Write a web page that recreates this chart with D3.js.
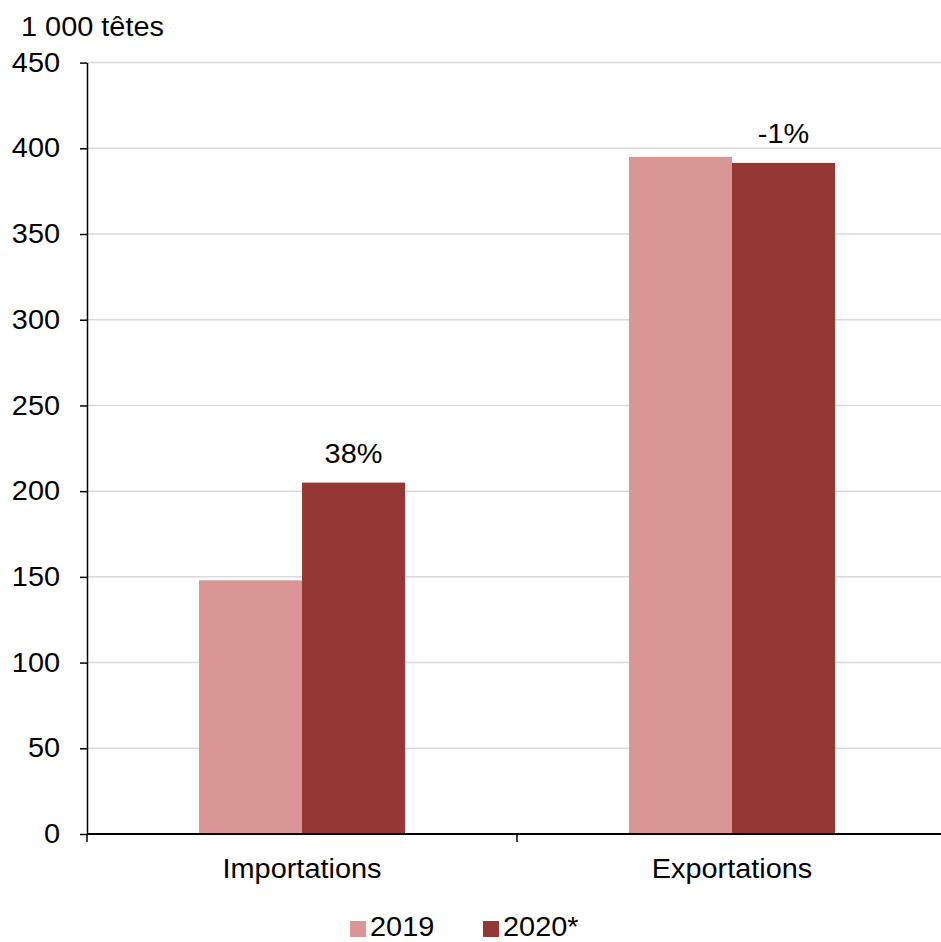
<!DOCTYPE html>
<html>
<head>
<meta charset="utf-8">
<script src="https://cdn.jsdelivr.net/npm/d3@7"></script>
<style>
  body { margin: 0; background: #fff; }
  text { font-family: "Liberation Sans", Arial, sans-serif; fill: #000; }
</style>
</head>
<body>
<div id="chart"></div>
<script>
(function() {
  var width = 941,
      height = 942;

  // Data (thousands of head).
  var categories = ["Importations", "Exportations"];
  var series = ["2019", "2020*"];
  var values2019 = [148, 395];
  var values2020 = [205, 391.5];
  var changeLabels = ["38%", "-1%"];
  var yTicks = [0, 50, 100, 150, 200, 250, 300, 350, 400, 450];
  var colors = ["#d99694", "#953735"];

  var left = 87, right = 947, top = 62.6, bottom = 834;
  var fontSize = 27,
      stretchX = 1.07; // the reference font is a bit wider than Liberation Sans

  var svg = d3.select("#chart")
    .append("svg")
      .attr("width", width)
      .attr("height", height);

  // Put a text at (x, y), widened horizontally.
  function placeText(sel, x, y) {
    sel.attr("transform", function(d, i) {
      var px = typeof x === "function" ? x(d, i) : x,
          py = typeof y === "function" ? y(d, i) : y;
      return "translate(" + px + "," + py + ") scale(" + stretchX + ",1)";
    })
    .style("font-size", fontSize + "px");
    return sel;
  }

  var y = d3.scaleLinear()
    .domain([0, 450])
    .range([bottom, top]);

  var x0 = d3.scaleBand()
    .domain(categories)
    .range([left, right]);

  var x1 = d3.scaleBand()
    .domain(series)
    .range([0, x0.bandwidth()])
    .paddingOuter(1.087);

  // Gridlines.
  svg.append("g")
    .selectAll("line")
    .data(yTicks.filter(function(d) { return d > 0; }))
    .enter()
    .append("line")
      .attr("x1", left)
      .attr("x2", width)
      .attr("y1", function(d) { return y(d); })
      .attr("y2", function(d) { return y(d); })
      .attr("stroke", "#d9d9d9")
      .attr("stroke-width", 1.5);

  // Bars.
  var rows = categories.map(function(c, i) {
    return { cat: c, vals: [values2019[i], values2020[i]] };
  });

  var groups = svg.append("g")
    .selectAll("g")
    .data(rows)
    .enter()
    .append("g")
      .attr("transform", function(d) { return "translate(" + x0(d.cat) + ",0)"; });

  groups.selectAll("rect")
    .data(function(d) { return d.vals.map(function(v, j) { return { s: series[j], v: v, j: j }; }); })
    .enter()
    .append("rect")
      .attr("x", function(d) { return x1(d.s); })
      .attr("width", x1.bandwidth())
      .attr("y", function(d) { return y(d.v); })
      .attr("height", function(d) { return bottom - y(d.v); })
      .attr("fill", function(d) { return colors[d.j]; });

  // Change labels above the 2020 bars.
  var changes = svg.append("g")
    .selectAll("text")
    .data(rows)
    .enter()
    .append("text")
      .attr("text-anchor", "middle")
      .text(function(d, i) { return changeLabels[i]; });
  placeText(changes,
    function(d) { return x0(d.cat) + x1(series[1]) + x1.bandwidth() / 2; },
    function(d) { return y(d.vals[1]) - 20; });

  // Y axis.
  var yAxis = svg.append("g")
    .attr("transform", "translate(" + left + ",0)")
    .call(d3.axisLeft(y).tickValues(yTicks).tickSizeInner(7).tickSizeOuter(0).tickPadding(18.2));
  yAxis.select(".domain").attr("stroke", "#000").attr("stroke-width", 1.5);
  yAxis.selectAll(".tick line").attr("stroke", "#000").attr("stroke-width", 1.5);
  yAxis.selectAll(".tick text")
    .attr("transform", "scale(" + stretchX + ",1)")
    .style("font-size", fontSize + "px")
    .style("font-family", "Liberation Sans, Arial, sans-serif")
    .attr("fill", "#000");

  // X axis.
  var xAxis = svg.append("g");
  xAxis.append("line")
    .attr("x1", left).attr("x2", width)
    .attr("y1", bottom).attr("y2", bottom)
    .attr("stroke", "#000").attr("stroke-width", 2);
  xAxis.selectAll("line.tk")
    .data(categories.concat(["end"]))
    .enter()
    .append("line")
      .attr("class", "tk")
      .attr("x1", function(d, i) { return i < categories.length ? x0(d) : right; })
      .attr("x2", function(d, i) { return i < categories.length ? x0(d) : right; })
      .attr("y1", bottom)
      .attr("y2", bottom + 8)
      .attr("stroke", "#000")
      .attr("stroke-width", 1.5);
  var catLabels = xAxis.selectAll("text")
    .data(categories)
    .enter()
    .append("text")
      .attr("text-anchor", "middle")
      .text(function(d) { return d; });
  placeText(catLabels, function(d) { return x0(d) + x0.bandwidth() / 2; }, 878);

  // Unit title.
  placeText(svg.append("text").text("1 000 têtes"), 21, 36);

  // Legend.
  var legendX = [350, 483];
  var legend = svg.append("g");
  series.forEach(function(s, i) {
    legend.append("rect")
      .attr("x", legendX[i])
      .attr("y", 921)
      .attr("width", 16)
      .attr("height", 16)
      .attr("fill", colors[i]);
    placeText(legend.append("text").text(s), legendX[i] + 20, 936);
  });
})();
</script>
</body>
</html>
